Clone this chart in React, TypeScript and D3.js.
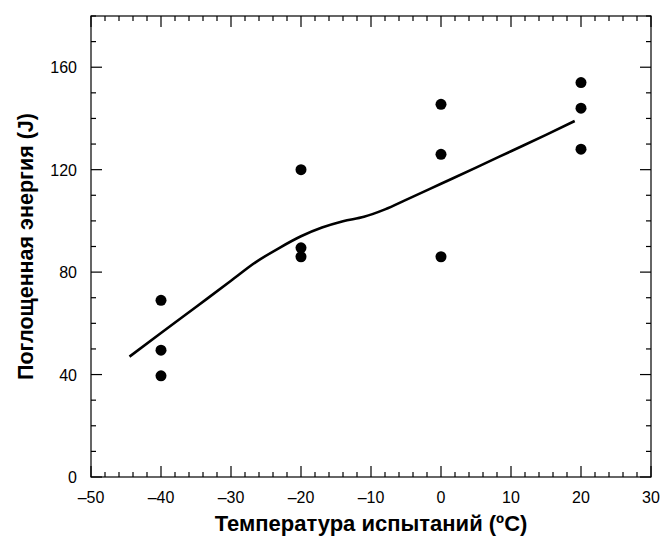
import React from 'react';
import * as d3 from 'd3';

// measured points
const tempX = [-40, -40, -40, -20, -20, -20, 0, 0, 0, 20, 20, 20];
const energyY = [69, 49.5, 39.5, 120, 89.5, 86, 145.5, 126, 86, 154, 144, 128];

// smoothed fit curve
const fitX = [-44.5, -40, -35, -30, -26.5, -23, -20, -17, -14, -11, -8, -5, 0, 5, 10, 15, 19.1];
const fitY = [47, 56.2, 66.4, 76.6, 83.8, 89.6, 94, 97.4, 99.9, 101.6, 104.5, 108.2, 114.5, 120.8, 127.2, 133.6, 139];

const xTickLabels = [-50, -40, -30, -20, -10, 0, 10, 20, 30];
const yTickLabels = [0, 40, 80, 120, 160];

const W = 661, H = 545;
const left = 91, right = 651, top = 16, bottom = 477;

const fmt = (v: number) => (v < 0 ? '\u2013' + Math.abs(v) : String(v));

export default function App() {
  const x = d3.scaleLinear().domain([-50, 30]).range([left, right]);
  const y = d3.scaleLinear().domain([0, 180]).range([bottom, top]);

  const xMinor = d3.range(-50, 30.01, 2);
  const yMinor = d3.range(0, 180.01, 10);

  const line = d3.line<number>()
    .x((d, i) => x(fitX[i]))
    .y((d, i) => y(fitY[i]))
    .curve(d3.curveMonotoneX);

  const font = 'Arial, "Liberation Sans", Helvetica, sans-serif';

  return (
    <svg width={W} height={H} style={{ position: 'absolute', left: 0, top: 0 }}>
      <rect x={0} y={0} width={W} height={H} fill="#fff" />
      <g stroke="#000" strokeWidth={1.2} fill="none">
        <rect x={left} y={top} width={right - left} height={bottom - top} />
        {xMinor.map(v => {
          const major = v % 10 === 0;
          const len = major ? 11 : 5;
          return (
            <g key={'x' + v}>
              <line x1={x(v)} x2={x(v)} y1={bottom} y2={bottom - len} />
              <line x1={x(v)} x2={x(v)} y1={top} y2={top + len} />
            </g>
          );
        })}
        {yMinor.map(v => {
          const major = v % 40 === 0;
          const len = major ? 11 : 5;
          return (
            <g key={'y' + v}>
              <line x1={left} x2={left + len} y1={y(v)} y2={y(v)} />
              <line x1={right} x2={right - len} y1={y(v)} y2={y(v)} />
            </g>
          );
        })}
      </g>
      <g fontFamily={font} fontSize={16} fill="#000">
        {xTickLabels.map(v => (
          <text key={v} x={x(v)} y={bottom + 26} textAnchor="middle">{fmt(v)}</text>
        ))}
        {yTickLabels.map(v => (
          <text key={v} x={left - 14} y={y(v) + 6} textAnchor="end">{v}</text>
        ))}
      </g>
      <path d={line(fitX) || ''} fill="none" stroke="#000" strokeWidth={2.6} strokeLinejoin="round" />
      {tempX.map((t, i) => (
        <circle key={i} cx={x(t)} cy={y(energyY[i])} r={5.5} fill="#000" />
      ))}
      <text x={(left + right) / 2} y={531} textAnchor="middle" fontFamily={font}
        fontWeight="bold" fontSize={22}>Температура испытаний (ºC)</text>
      <text transform={`translate(33, ${(top + bottom) / 2}) rotate(-90)`} textAnchor="middle"
        fontFamily={font} fontWeight="bold" fontSize={21.5}>Поглощенная энергия (J)</text>
    </svg>
  );
}
